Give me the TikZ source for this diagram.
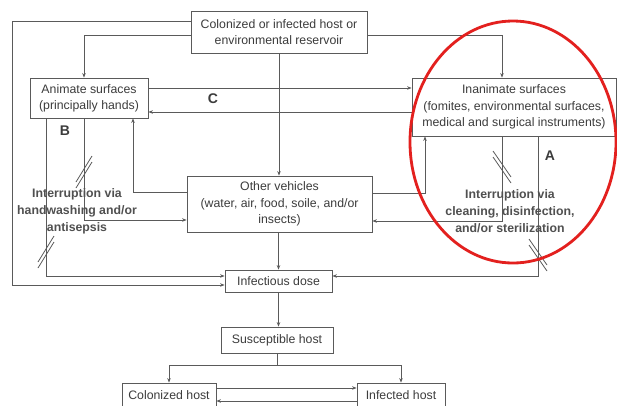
\documentclass[tikz,border=0pt]{standalone}
\usepackage{fontspec}
\setmainfont{Liberation Sans}
\usetikzlibrary{arrows.meta,calc}
\definecolor{boxline}{HTML}{5A5A5A}
\definecolor{boxtext}{HTML}{3C3C3C}
\definecolor{labgray}{HTML}{505050}
\definecolor{ringred}{HTML}{E3201E}
\tikzset{
  box/.style={draw=boxline, line width=0.8pt, fill=white, text=boxtext, align=center, inner sep=0pt,
    font=\fontsize{12.3}{16.3}\selectfont},
  arr/.style={draw=boxline, line width=0.8pt, -{Stealth[length=4.5pt,width=3.5pt]}},
  ln/.style={draw=boxline, line width=0.8pt},
  hatch/.style={draw=boxline, line width=0.8pt},
  interlab/.style={text=labgray, align=center, font=\bfseries\fontsize{12.3}{17}\selectfont},
  letter/.style={text=boxtext, font=\bfseries\fontsize{14}{16}\selectfont},
}
\begin{document}
\begin{tikzpicture}[x=1pt,y=-1pt]
\path[use as bounding box] (0,0) rectangle (617,405);
\clip (0,0) rectangle (617,405);
\fill[white] (0,0) rectangle (617,405);

% boxes
\node[box, minimum width=176pt, minimum height=42pt] (top) at (279,32) {Colonized or infected host or\\environmental reservoir};
\node[box, minimum width=118pt, minimum height=40pt] (anim) at (89,98) {Animate surfaces\\(principally hands)};
\node[box, minimum width=204pt, minimum height=58pt] (inan) at (514,107) {Inanimate surfaces\\(fomites, environmental surfaces,\\medical and surgical instruments)};
\node[box, minimum width=185pt, minimum height=56pt] (veh) at (279.5,204) {Other vehicles\\(water, air, food, soile, and/or\\insects)};
\node[box, minimum width=107pt, minimum height=22pt] (dose) at (278.5,281) {Infectious dose};
\node[box, minimum width=112pt, minimum height=26pt] (sus) at (277,340) {Susceptible host};
\node[box, minimum width=94pt, minimum height=24pt] (col) at (169,395) {Colonized host};
\node[box, minimum width=88pt, minimum height=24pt] (inf) at (401,395) {Infected host};

% corner coordinates
\coordinate (outerL) at (12,285);

% connectors from the reservoir
\draw[arr] ([yshift=11pt]top.west) -| (outerL) -- ([yshift=-4pt]dose.west);
\draw[arr] ([yshift=-3pt]top.west) -| ([xshift=-5pt]anim.north);
\draw[arr] ([yshift=-3pt]top.east) -| ([xshift=-12pt]inan.north);
\draw[arr] (top.south) -- (top.south |- veh.north);

% animate <-> inanimate
\draw[arr] ([yshift=10pt]anim.east) -- ([yshift=10pt]anim.east -| inan.west);
\draw[arr] ([yshift=-14pt]anim.east -| inan.west) -- ([yshift=-14pt]anim.east);

% animate <-> vehicles, animate -> dose
\draw[arr] ([yshift=12pt]veh.west) -| ([xshift=44pt]anim.south);
\draw[arr] ([xshift=-5pt]anim.south) |- ([yshift=-16pt]veh.west);
\draw[arr] ([xshift=-43pt]anim.south) |- ([yshift=5pt]dose.west);

% inanimate <-> vehicles, inanimate -> dose
\draw[arr] ([yshift=11pt]veh.east) -| ([xshift=-89pt]inan.south);
\draw[arr] ([xshift=-12pt]inan.south) |- ([yshift=-17pt]veh.east);
\draw[arr] ([xshift=24pt]inan.south) |- ([yshift=5pt]dose.east);

% main chain
\draw[arr] (veh.south -| dose.north) -- (dose.north);
\draw[arr] (dose.south) -- (dose.south |- sus.north);
\coordinate (br) at ($(sus.south)+(0,12)$);
\draw[ln] (sus.south) -- (br);
\draw[arr] (br) -| (col.north);
\draw[arr] (br) -| (inf.north);
\draw[arr] ([yshift=7pt]col.east) -- ([yshift=7pt]col.east -| inf.west);
\draw[arr] ([yshift=-6pt]col.east -| inf.west) -- ([yshift=-6pt]col.east);

% hatch marks (interruptions)
\foreach \cx/\cy in {84/170, 46/250}{
  \draw[hatch] (\cx-8,\cy-1+13) -- (\cx+8,\cy-1-13);
  \draw[hatch] (\cx-8,\cy+5+13) -- (\cx+8,\cy+5-13);
}
\foreach \cx/\cy in {502/167, 538/255}{
  \draw[hatch] (\cx-9,\cy-3-13) -- (\cx+9,\cy-3+13);
  \draw[hatch] (\cx-9,\cy+3-13) -- (\cx+9,\cy+3+13);
}

% labels
\node[interlab] (intL) at (77,211) {Interruption via\\handwashing and/or\\antisepsis};
\node[interlab] (intR) at (510,211) {Interruption via\\cleaning, disinfection,\\and/or sterilization};
\node[letter] (lA) at (550,156) {A};
\node[letter] (lB) at (65,131) {B};
\node[letter] (lC) at (213,99) {C};

% red ring
\draw[ringred, line width=2.8pt] (513,142) ellipse [x radius=103, y radius=121];
\end{tikzpicture}
\end{document}
